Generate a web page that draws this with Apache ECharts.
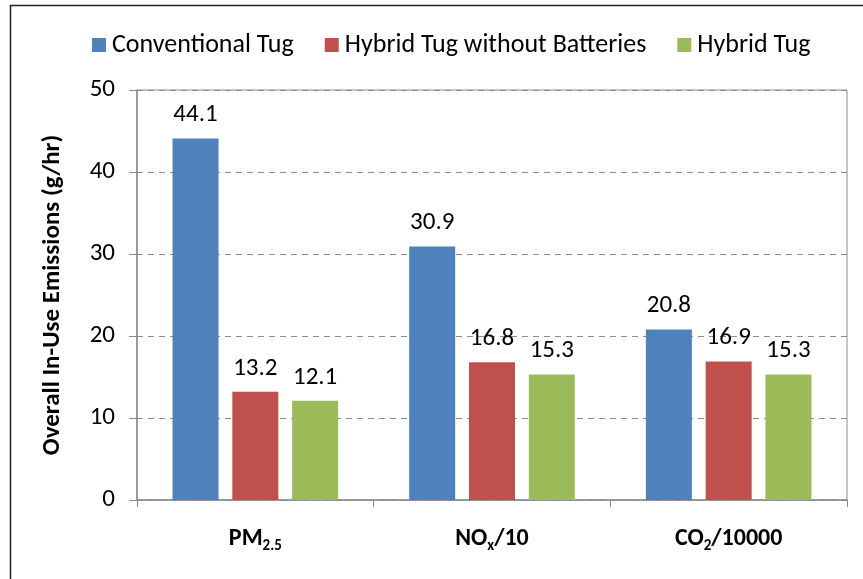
<!DOCTYPE html>
<html>
<head>
<meta charset="utf-8">
<script src="https://cdn.jsdelivr.net/npm/echarts@6/dist/echarts.min.js"></script>
<style>
  html, body { margin: 0; padding: 0; background: #fff; }
  #main { width: 863px; height: 579px; }
</style>
</head>
<body>
<div id="main"></div>
<script>
var categories = ['PM2.5', 'NOx/10', 'CO2/10000'];
var conventional = [44.1, 30.9, 20.8];
var hybridNoBatt = [13.2, 16.8, 16.9];
var hybrid = [12.1, 15.3, 15.3];
var seriesNames = ['Conventional Tug', 'Hybrid Tug without Batteries', 'Hybrid Tug'];
var colors = ['#4F81BD', '#C0504D', '#9BBB59'];

var font = 'Carlito, "Liberation Sans Narrow", "DejaVu Sans Condensed", sans-serif';

var myChart = echarts.init(document.getElementById('main'));

function makeSeries(name, data, color) {
  return {
    name: name,
    type: 'bar',
    data: data,
    barWidth: 46,
    barGap: '30%',
    itemStyle: { color: color },
    label: {
      show: true,
      position: 'top',
      distance: 11,
      color: '#000',
      fontSize: 25,
      fontFamily: font,
      formatter: function (p) { return p.value.toFixed(1); }
    }
  };
}

var option = {
  animation: false,
  textStyle: { fontFamily: font },
  color: colors,
  graphic: [{
    type: 'rect',
    shape: { x: 10.5, y: 5.5, width: 900, height: 600 },
    style: { fill: 'none', stroke: '#222', lineWidth: 1.5 },
    silent: true
  }],
  legend: {
    top: 27,
    left: 87,
    itemWidth: 14,
    itemHeight: 14,
    itemGap: 31,
    icon: 'rect',
    textStyle: { fontSize: 26, color: '#000', fontFamily: font, padding: [0, 0, 0, 1] },
    data: seriesNames
  },
  grid: {
    left: 137,
    right: 16,
    top: 90,
    bottom: 79,
    show: true,
    borderColor: '#8c8c8c',
    borderWidth: 1
  },
  xAxis: {
    type: 'category',
    data: categories,
    axisLine: { lineStyle: { color: '#8c8c8c', width: 1.5 } },
    axisTick: { show: true, length: 7, lineStyle: { color: '#8c8c8c' } },
    axisLabel: {
      margin: 24,
      formatter: function (v) {
        if (v === 'PM2.5') return '{b|PM}{s|2.5}';
        if (v === 'NOx/10') return '{b|NO}{s|x}{b|/10}';
        return '{b|CO}{s|2}{b|/10000}';
      },
      rich: {
        b: { fontSize: 24, fontWeight: 'bold', color: '#000', fontFamily: font, lineHeight: 30 },
        s: { fontSize: 15, fontWeight: 'bold', color: '#000', fontFamily: font, lineHeight: 8, verticalAlign: 'bottom' }
      }
    }
  },
  yAxis: {
    type: 'value',
    min: 0,
    max: 50,
    interval: 10,
    name: 'Overall In-Use Emissions (g/hr)',
    nameLocation: 'middle',
    nameGap: 72,
    nameTextStyle: { fontSize: 25, fontWeight: 'bold', color: '#000', fontFamily: font },
    axisLine: { show: true, lineStyle: { color: '#8c8c8c', width: 1.5 } },
    axisTick: { show: true, length: 8, lineStyle: { color: '#8c8c8c' } },
    axisLabel: { fontSize: 25, color: '#000', margin: 22, fontFamily: font },
    splitLine: { show: true, lineStyle: { color: '#8c8c8c', type: [6, 5] } }
  },
  series: [
    makeSeries(seriesNames[0], conventional, colors[0]),
    makeSeries(seriesNames[1], hybridNoBatt, colors[1]),
    makeSeries(seriesNames[2], hybrid, colors[2])
  ]
};

myChart.setOption(option);
</script>
</body>
</html>
